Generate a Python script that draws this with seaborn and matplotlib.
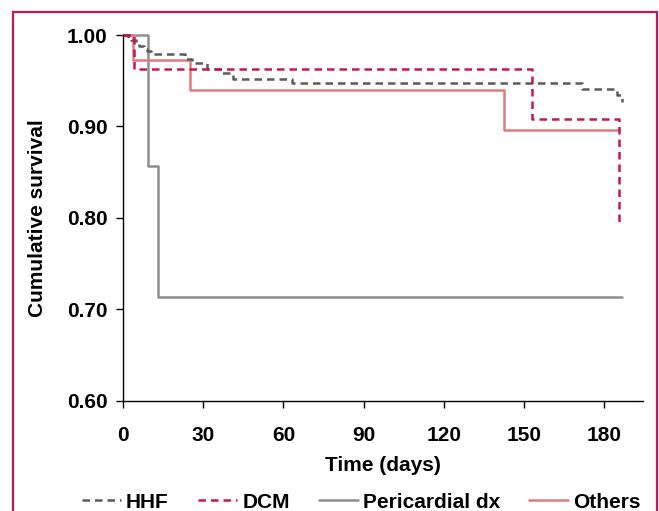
import numpy as np
import pandas as pd
import seaborn as sns
import matplotlib.pyplot as plt
from matplotlib.lines import Line2D
from matplotlib.patches import Rectangle

# Kaplan-Meier step points (time in days, cumulative survival)
groups = ["HHF", "DCM", "Pericardial dx", "Others"]

hhf_time = [0, 2, 3, 5, 6, 8, 9, 10.5, 23.2, 25.7, 31.3, 36.9, 41.1, 63.1, 171.6, 184.7, 186.5]
hhf_surv = [1.0, 0.997, 0.994, 0.991, 0.988, 0.985, 0.982, 0.979, 0.974, 0.969, 0.963,
            0.959, 0.952, 0.947, 0.941, 0.934, 0.927]

dcm_time = [0, 4.2, 153.0, 185.6]
dcm_surv = [1.0, 0.963, 0.908, 0.795]

peri_time = [0, 9.2, 13.2, 186.7]
peri_surv = [1.0, 0.857, 0.714, 0.714]

oth_time = [0, 3.9, 25.0, 142.6, 185.5]
oth_surv = [1.0, 0.973, 0.940, 0.896, 0.896]

x_ticks = [0, 30, 60, 90, 120, 150, 180]
y_ticks = [0.60, 0.70, 0.80, 0.90, 1.00]

colors = {"HHF": "#5b5b5b", "DCM": "#c8164e", "Pericardial dx": "#8e8e8e", "Others": "#e07a7e"}
dashes = {"HHF": (3, 2), "DCM": (3, 2), "Pericardial dx": "", "Others": ""}

frames = []
for name, t, s in zip(groups, [hhf_time, dcm_time, peri_time, oth_time],
                      [hhf_surv, dcm_surv, peri_surv, oth_surv]):
    frames.append(pd.DataFrame({"time": t, "surv": s, "group": name, "order": np.arange(len(t))}))
df = pd.concat(frames, ignore_index=True)

sns.set_style("ticks")
plt.rcParams["font.family"] = ["Liberation Sans", "DejaVu Sans"]
plt.rcParams["font.weight"] = "bold"
for key in ["text.color", "axes.labelcolor", "xtick.color", "ytick.color"]:
    plt.rcParams[key] = "black"

FS = 15

fig = plt.figure(figsize=(6.59, 5.11), dpi=100)
ax = fig.add_axes([0.1866, 0.2153, 0.7894, 0.7162])

# draw back to front like the original
for name in ["Pericardial dx", "Others", "HHF", "DCM"]:
    sub = df[df["group"] == name]
    sns.lineplot(
        data=sub, x="time", y="surv", ax=ax, color=colors[name],
        estimator=None, sort=False, drawstyle="steps-post",
        linewidth=1.8, dashes=dashes[name] if dashes[name] else None,
        legend=False, clip_on=False,
    )

ax.set_xlim(0, 194.5)
ax.set_ylim(0.60, 1.00)
ax.set_xticks(x_ticks)
ax.set_yticks(y_ticks)
ax.set_xticklabels([str(v) for v in x_ticks], fontsize=FS, fontweight="bold")
ax.set_yticklabels([f"{v:.2f}" for v in y_ticks], fontsize=FS, fontweight="bold")
ax.tick_params(axis="both", direction="out", length=5, width=1, color="black")
ax.tick_params(axis="x", pad=13)
ax.tick_params(axis="y", pad=6)
ax.set_xlabel("Time (days)", fontsize=FS, fontweight="bold", labelpad=8)
ax.set_ylabel("Cumulative survival", fontsize=FS, fontweight="bold", labelpad=14)
sns.despine(ax=ax)
for sp in ["left", "bottom"]:
    ax.spines[sp].set_linewidth(1.0)
    ax.spines[sp].set_color("black")

handles = [
    Line2D([], [], color=colors[g], linewidth=1.8,
           dashes=dashes[g] if dashes[g] else (None, None))
    for g in groups
]
fig.legend(handles, groups, loc="center", bbox_to_anchor=(0.5486, 1 - 502 / 511),
           ncol=4, frameon=False, handlelength=1.87,
           handletextpad=0.25, columnspacing=1.4, borderpad=0,
           prop={"weight": "bold", "size": FS})

# crimson frame around the figure
fig.patches.append(Rectangle((12.5 / 659, -0.1), (656.5 - 12.5) / 659, 1.1 - 12.5 / 511,
                             transform=fig.transFigure, fill=False,
                             edgecolor="#c8164e", linewidth=1.6))

fig.savefig("out.png", dpi=100)
